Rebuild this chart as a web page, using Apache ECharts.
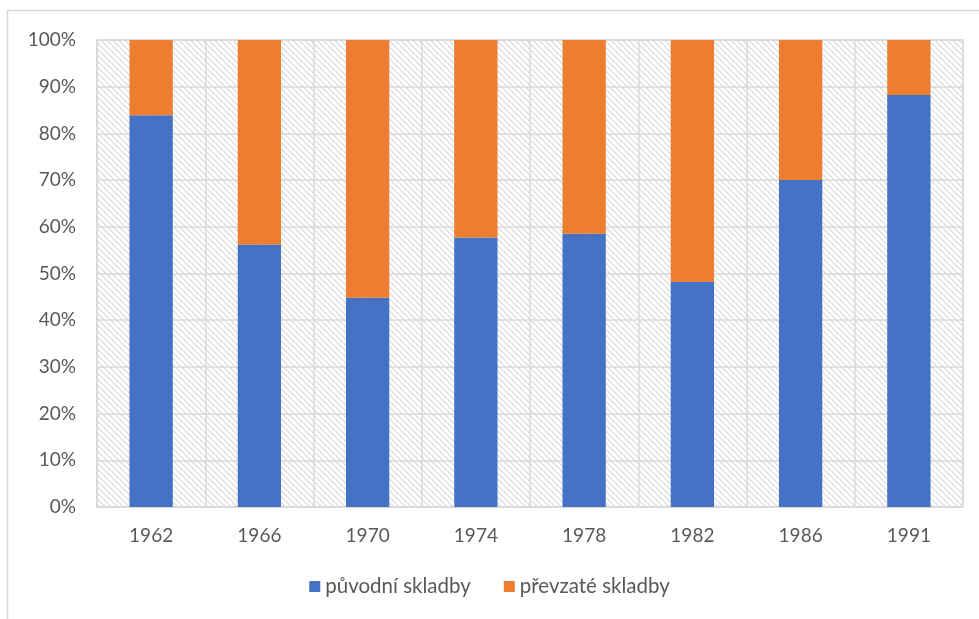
<!DOCTYPE html>
<html>
<head>
<meta charset="utf-8">
<script src="https://cdn.jsdelivr.net/npm/echarts@6/dist/echarts.min.js"></script>
<style>
  html, body { margin: 0; padding: 0; background: #ffffff; }
  #chart { width: 979px; height: 619px; }
</style>
</head>
<body>
<div id="chart"></div>
<script>
// Years of the releases
const years = ['1962', '1966', '1970', '1974', '1978', '1982', '1986', '1991'];
// Share of original songs (%)
const puvodni = [83.9, 56.2, 44.8, 57.7, 58.5, 48.2, 70.0, 88.2];
// Share of cover songs (%)
const prevzate = [16.1, 43.8, 55.2, 42.3, 41.5, 51.8, 30.0, 11.8];
// Series names
const seriesNames = ['původní skladby', 'převzaté skladby'];

// Diagonal hatch fill for the plot background
function makeHatch() {
  const size = 6;
  const c = document.createElement('canvas');
  c.width = size; c.height = size;
  const ctx = c.getContext('2d');
  ctx.fillStyle = '#ffffff';
  ctx.fillRect(0, 0, size, size);
  for (let i = 0; i < size; i++) {
    ctx.fillStyle = (i % 2 === 0) ? '#d4d4d4' : '#e4e4e4';
    ctx.fillRect(i, i, 1, 1);
    ctx.fillStyle = (i % 2 === 0) ? '#efefef' : '#dcdcdc';
    ctx.fillRect((i + 1) % size, i, 1, 1);
  }
  return c;
}

const font = 'Lato, "Open Sans", sans-serif';
const chart = echarts.init(document.getElementById('chart'));
chart.setOption({
  animation: false,
  graphic: [{
    type: 'rect',
    shape: { x: 7.5, y: 10.5, width: 1000, height: 700 },
    style: { fill: 'none', stroke: '#d9d9d9', lineWidth: 1.5 },
    silent: true, z: -10
  }],
  grid: {
    left: 97, right: 16, top: 40, bottom: 112,
    show: true,
    backgroundColor: { image: makeHatch(), repeat: 'repeat' },
    borderColor: '#d9d9d9', borderWidth: 1.5
  },
  legend: {
    bottom: 17,
    left: 'center',
    itemWidth: 11, itemHeight: 11, itemGap: 33,
    icon: 'rect',
    textStyle: { color: '#595959', fontSize: 20.5, fontFamily: font },
    data: seriesNames
  },
  xAxis: {
    type: 'category',
    data: years,
    axisTick: { show: false },
    axisLine: { lineStyle: { color: '#d9d9d9', width: 1.5 } },
    splitLine: { show: true, lineStyle: { color: '#d9d9d9', width: 1.5 } },
    axisLabel: { color: '#595959', fontSize: 19, fontFamily: font, margin: 19 }
  },
  yAxis: {
    type: 'value',
    min: 0, max: 100, interval: 10,
    axisLabel: { formatter: '{value}%', color: '#595959', fontSize: 19, fontFamily: font, margin: 21 },
    axisLine: { show: false },
    axisTick: { show: false },
    splitLine: { lineStyle: { color: '#d9d9d9', width: 1.5 } }
  },
  series: [
    { name: seriesNames[0], type: 'bar', stack: 'total', data: puvodni, barWidth: '40%', itemStyle: { color: '#4472c4' } },
    { name: seriesNames[1], type: 'bar', stack: 'total', data: prevzate, barWidth: '40%', itemStyle: { color: '#ed7d31' } }
  ]
});
</script>
</body>
</html>
